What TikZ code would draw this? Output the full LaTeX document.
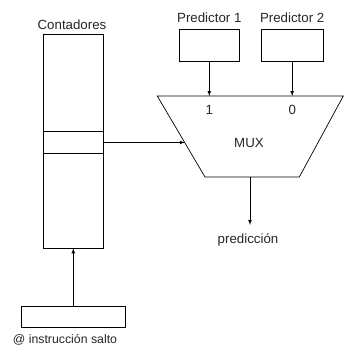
\documentclass[tikz,border=0pt]{standalone}
\usepackage{fontspec}
\setmainfont{Liberation Sans}
\usetikzlibrary{calc}

\begin{document}
\begin{tikzpicture}[x=1pt, y=-1pt, line width=0.7pt]
    % Styles
    \tikzstyle{box} = [rectangle, draw, inner sep=0pt]
    \tikzstyle{txt} = [inner sep=2pt, text=black!85,
        font=\fontsize{13.3}{16}\selectfont]
    \tikzstyle{arrow} = [->,>=latex]

    \useasboundingbox (0,0) rectangle (344,346);

    % Nodes
    \node [box, minimum width=60pt, minimum height=214pt] (cont) at (73.3,141) {};
    \node [box, minimum width=60pt, minimum height=21.6pt] (entry) at (73.3,142.5) {};
    \node [txt] (contlabel) at (72,25) {Contadores};

    \node [box, minimum width=103.3pt, minimum height=21.5pt] (addr) at (73.3,317) {};
    \node [txt, inner sep=0pt, font=\fontsize{12.3}{15}\selectfont] (addrlabel) at (65,340) {@ instrucción salto};

    \node [box, minimum width=60pt, minimum height=32.4pt] (pred1) at (209.3,45.5) {};
    \node [box, minimum width=62.3pt, minimum height=32.4pt] (pred2) at (292.2,45.5) {};
    \node [txt] (pred1label) at (209.3,18) {Predictor 1};
    \node [txt] (pred2label) at (292.2,18) {Predictor 2};

    % MUX
    \coordinate (tl) at (157.3,96);
    \coordinate (tr) at (343.3,96);
    \coordinate (br) at (299.3,177);
    \coordinate (bl) at (205,177);
    \draw (tl) -- (tr) -- (br) -- (bl) -- cycle;
    \coordinate (in1) at (209.3,96);
    \coordinate (in0) at (292.2,96);
    \coordinate (sel) at ($(tl)!0.574!(bl)$);
    \coordinate (out) at (250,177);
    \node [txt] (one) at (209.3,110) {1};
    \node [txt] (zero) at (292.2,110) {0};
    \node [txt] (mux) at (249,143) {MUX};
    \node [txt, inner sep=8.5pt] (pred) at (248,240) {predicción};

    % Arrows
    \draw [arrow] (pred1) -- (in1);
    \draw [arrow] (pred2) -- (in0);
    \draw [arrow] (entry) -- (sel);
    \draw [arrow] (out) -- (out |- pred.north);
    \draw [arrow] (addr) -- (cont);
\end{tikzpicture}
\end{document}
